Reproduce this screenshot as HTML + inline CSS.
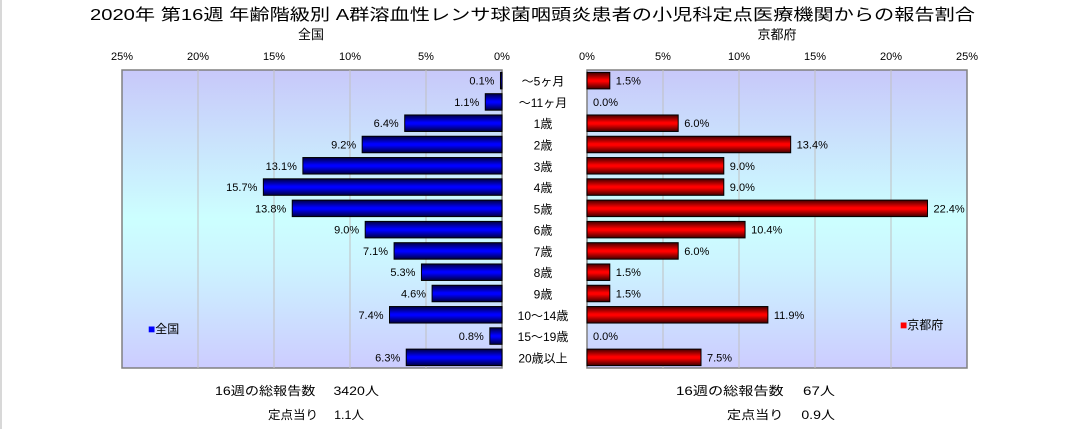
<!DOCTYPE html>
<html><head><meta charset="utf-8"><style>
body{margin:0;background:#fff;}
svg{display:block;font-family:"Liberation Sans","Noto Sans CJK JP",sans-serif;}
</style></head><body>
<svg id="c" width="1083" height="429">
<defs>
<linearGradient id="bg" x1="0" y1="0" x2="0" y2="1">
<stop offset="0" stop-color="#c8c8fa"/><stop offset="0.5" stop-color="#ccffff"/><stop offset="0.65" stop-color="#ccf4ff"/><stop offset="1" stop-color="#ccccff"/></linearGradient>
<linearGradient id="gb" x1="0" y1="0" x2="0" y2="1">
<stop offset="0" stop-color="#000040"/><stop offset="0.45" stop-color="#0000ff"/><stop offset="0.55" stop-color="#0000ff"/><stop offset="1" stop-color="#000040"/></linearGradient>
<linearGradient id="gr" x1="0" y1="0" x2="0" y2="1">
<stop offset="0" stop-color="#400000"/><stop offset="0.45" stop-color="#ff0000"/><stop offset="0.55" stop-color="#ff0000"/><stop offset="1" stop-color="#400000"/></linearGradient>
</defs>
<line x1="1" y1="0" x2="1" y2="429" stroke="#d8d8d8" stroke-width="2"/>
<text x="90" y="20" font-size="16" textLength="885" lengthAdjust="spacingAndGlyphs">2020年 第16週 年齢階級別 A群溶血性レンサ球菌咽頭炎患者の小児科定点医療機関からの報告割合</text>
<text x="311" y="39" font-size="13" text-anchor="middle">全国</text>
<text x="777" y="39" font-size="13" text-anchor="middle">京都府</text>
<g id="L"></g><g id="R"></g><g id="cats"></g>
<text x="148" y="333" font-size="12"><tspan fill="#0000ff">■</tspan>全国</text>
<text x="900" y="329" font-size="12"><tspan fill="#ff0000">■</tspan>京都府</text>
<text x="215" y="395" font-size="12" textLength="164" lengthAdjust="spacingAndGlyphs">16週の総報告数　 3420人</text>
<text x="268" y="419" font-size="12" textLength="96" lengthAdjust="spacingAndGlyphs">定点当り　 1.1人</text>
<text x="676" y="395" font-size="12" textLength="159" lengthAdjust="spacingAndGlyphs">16週の総報告数　 67人</text>
<text x="727" y="419" font-size="12" textLength="108" lengthAdjust="spacingAndGlyphs">定点当り　 0.9人</text>
</svg>
<script>
const categories=["～5ヶ月","～11ヶ月","1歳","2歳","3歳","4歳","5歳","6歳","7歳","8歳","9歳","10～14歳","15～19歳","20歳以上"];
const nationalValues=[0.1,1.1,6.4,9.2,13.1,15.7,13.8,9.0,7.1,5.3,4.6,7.4,0.8,6.3];
const kyotoValues=[1.5,0.0,6.0,13.4,9.0,9.0,22.4,10.4,6.0,1.5,1.5,11.9,0.0,7.5];
const ticks=[0,5,10,15,20,25];
const NS="http://www.w3.org/2000/svg";
const plotTop=70,plotBot=368,rowH=(plotBot-plotTop)/categories.length,bh=16.5,ppu=380/25;
function mk(p,t,a){const e=document.createElementNS(NS,t);for(const k in a)e.setAttribute(k,a[k]);p.appendChild(e);return e;}
function panel(g,x0,dir,vals,fill,nm){
  const xs=v=>x0+dir*v*ppu;
  const left=Math.min(xs(0),xs(25));
  const r=mk(g,'rect',{x:left,y:plotTop,width:380,height:plotBot-plotTop,fill:'url(#bg)',stroke:'#808080','stroke-width':1.5});
  
  
  ticks.forEach(t=>{
    if(t>0&&t<25){const l=mk(g,'line',{x1:xs(t),x2:xs(t),y1:plotTop,y2:plotBot,stroke:'#c0c0c0'});
    
    }
    const tx=mk(g,'text',{x:xs(t),y:60,'font-size':11,'text-anchor':'middle'});tx.textContent=t+'%';
    
    
  });
  vals.forEach((v,i)=>{
    const cy=plotTop+rowH*(i+0.5);
    const x1=xs(0),x2=xs(v);
    if(v>0){const b=mk(g,'rect',{x:Math.min(x1,x2),y:cy-bh/2,width:Math.abs(x2-x1),height:bh,fill:fill,stroke:'#000','stroke-width':1});
    
    }
    const t=mk(g,'text',{x:x2+dir*6,y:cy+4,'font-size':11,'text-anchor':dir<0?'end':'start'});
    t.textContent=v.toFixed(1)+'%';
    
    
  });
}
panel(document.getElementById('L'),502,-1,nationalValues,'url(#gb)','national');
panel(document.getElementById('R'),587,1,kyotoValues,'url(#gr)','kyoto');
const cg=document.getElementById('cats');
categories.forEach((c,i)=>{
  const t=mk(cg,'text',{x:543,y:plotTop+rowH*(i+0.5)+5,'font-size':12,'text-anchor':'middle'});
  t.textContent=c;
  
  
});
</script>
</body></html>
